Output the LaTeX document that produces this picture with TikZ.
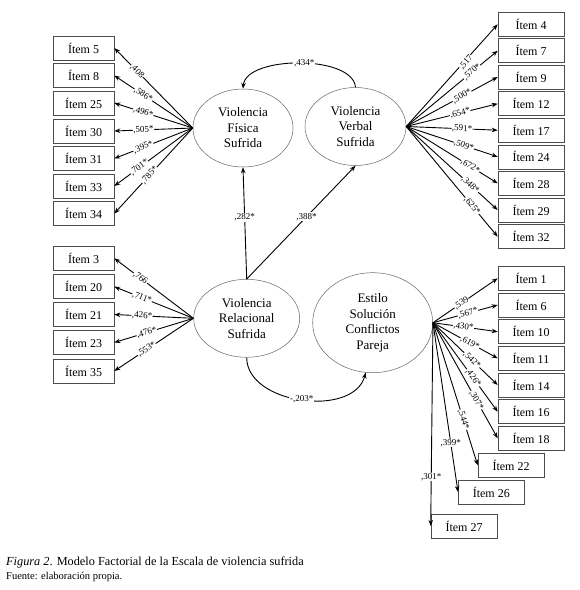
\documentclass[tikz,border=0pt]{standalone}
\usepackage{fontspec}
\setmainfont{Liberation Serif}
\usetikzlibrary{shapes.geometric,arrows.meta}
\begin{document}
\begin{tikzpicture}[x=1pt,y=-1pt,
  itembox/.style={draw=black!70, line width=0.6pt, minimum width=61pt, minimum height=24pt, inner sep=0pt, font=\fontsize{12}{14}\selectfont},
  itemboxr/.style={itembox, minimum width=66pt},
  latent/.style={ellipse, draw=black!60, line width=0.5pt, align=center, inner sep=0pt, font=\fontsize{13}{15.5}\selectfont},
  conn/.style={-{Stealth[length=6pt,width=4.5pt]}, line width=0.9pt},
  lab/.style={fill=white, inner sep=0.4pt, font=\fontsize{9}{10}\selectfont, sloped},
  labh/.style={fill=white, inner sep=0.6pt, font=\fontsize{9}{10}\selectfont}]
\useasboundingbox (0,0) rectangle (580,590);
\fill[white] (0,0) rectangle (580,590);

% latent variables
\node[latent, minimum width=100pt, minimum height=78pt] (fis) at (243,128) {Violencia\\Física\\Sufrida};
\node[latent, minimum width=101pt, minimum height=78pt] (ver) at (355.5,126.5) {Violencia\\Verbal\\Sufrida};
\node[latent, minimum width=106pt, minimum height=78pt] (rel) at (246.7,318.3) {Violencia\\Relacional\\Sufrida};
\node[latent, minimum width=120pt, minimum height=100pt] (est) at (372.7,322.7) {Estilo\\Solución\\Conflictos\\Pareja};

% left top items
\node[itembox] (i5)  at (83.5,48)    {Ítem 5};
\node[itembox] (i8)  at (83.5,75.5)  {Ítem 8};
\node[itembox] (i25) at (83.5,103)   {Ítem 25};
\node[itembox] (i30) at (83.5,131)   {Ítem 30};
\node[itembox] (i31) at (83.5,158.5) {Ítem 31};
\node[itembox] (i33) at (83.5,186)   {Ítem 33};
\node[itembox] (i34) at (83.5,213.5) {Ítem 34};

% right top items
\node[itemboxr] (i4)  at (531,24.3)  {Ítem 4};
\node[itemboxr] (i7)  at (531,50.7)  {Ítem 7};
\node[itemboxr] (i9)  at (531,77)    {Ítem 9};
\node[itemboxr] (i12) at (531,103.7) {Ítem 12};
\node[itemboxr] (i17) at (531,130.2) {Ítem 17};
\node[itemboxr] (i24) at (531,156.8) {Ítem 24};
\node[itemboxr] (i28) at (531,183.3) {Ítem 28};
\node[itemboxr] (i29) at (531,210)   {Ítem 29};
\node[itemboxr] (i32) at (531,236.7) {Ítem 32};

% left bottom items
\node[itembox] (i3)  at (83.5,258.3) {Ítem 3};
\node[itembox] (i20) at (83.5,286.7) {Ítem 20};
\node[itembox] (i21) at (83.5,314.5) {Ítem 21};
\node[itembox] (i23) at (83.5,342.5) {Ítem 23};
\node[itembox] (i35) at (83.5,371)   {Ítem 35};

% right bottom items
\node[itemboxr] (i1)  at (531,278.3) {Ítem 1};
\node[itemboxr] (i6)  at (531,305)   {Ítem 6};
\node[itemboxr] (i10) at (531,331.7) {Ítem 10};
\node[itemboxr] (i11) at (531,358.3) {Ítem 11};
\node[itemboxr] (i14) at (531,385)   {Ítem 14};
\node[itemboxr] (i16) at (531,411.7) {Ítem 16};
\node[itemboxr] (i18) at (531,438.3) {Ítem 18};
\node[itemboxr] (i22) at (511,465.3) {Ítem 22};
\node[itemboxr] (i26) at (491.3,492) {Ítem 26};
\node[itemboxr] (i27) at (464,526)   {Ítem 27};

% loadings: Fisica
\draw[conn] (fis.west) -- node[lab,pos=0.71]{,408}  (i5.east);
\draw[conn] (fis.west) -- node[lab,pos=0.63]{,586*} (i8.east);
\draw[conn] (fis.west) -- node[lab,pos=0.63]{,496*} (i25.east);
\draw[conn] (fis.west) -- node[lab,pos=0.63]{,505*} (i30.east);
\draw[conn] (fis.west) -- node[lab,pos=0.63]{,395*} (i31.east);
\draw[conn] (fis.west) -- node[lab,pos=0.68]{,701*} (i33.east);
\draw[conn] (fis.west) -- node[lab,pos=0.55]{,785*} (i34.east);

% loadings: Verbal
\draw[conn] (ver.east) -- node[lab,pos=0.64,yshift=-2pt]{,517}  (i4.west);
\draw[conn] (ver.east) -- node[lab,pos=0.72]{,570*} (i7.west);
\draw[conn] (ver.east) -- node[lab,pos=0.61]{,500*} (i9.west);
\draw[conn] (ver.east) -- node[lab,pos=0.59]{,654*} (i12.west);
\draw[conn] (ver.east) -- node[lab,pos=0.61]{,591*} (i17.west);
\draw[conn] (ver.east) -- node[lab,pos=0.63]{,509*} (i24.west);
\draw[conn] (ver.east) -- node[lab,pos=0.70]{,672*} (i28.west);
\draw[conn] (ver.east) -- node[lab,pos=0.70]{,348*} (i29.west);
\draw[conn] (ver.east) -- node[lab,pos=0.72]{,625*} (i32.west);

% loadings: Relacional
\draw[conn] (rel.west) -- node[lab,pos=0.67]{,766}  (i3.east);
\draw[conn] (rel.west) -- node[lab,pos=0.65]{,711*} (i20.east);
\draw[conn] (rel.west) -- node[lab,pos=0.65]{,426*} (i21.east);
\draw[conn] (rel.west) -- node[lab,pos=0.59]{,476*} (i23.east);
\draw[conn] (rel.west) -- node[lab,pos=0.59]{,553*} (i35.east);

% loadings: Estilo
\draw[conn] (est.east) -- node[lab,pos=0.44]{,539}  (i1.west);
\draw[conn] (est.east) -- node[lab,pos=0.54]{,567*} (i6.west);
\draw[conn] (est.east) -- node[lab,pos=0.47]{,430*} (i10.west);
\draw[conn] (est.east) -- node[lab,pos=0.57]{,619*} (i11.west);
\draw[conn] (est.east) -- node[lab,pos=0.60]{,542*} (i14.west);
\draw[conn] (est.east) -- node[lab,pos=0.62]{,426*} (i16.west);
\draw[conn] (est.east) -- node[lab,pos=0.67]{,307*} (i18.west);
\draw[conn] (est.east) -- node[lab,pos=0.68]{,544*} (i22.west);
\draw[conn] (est.east) -- node[labh,pos=0.71]{,399*} (i26.west);
\draw[conn] (est.east) -- node[labh,pos=0.76]{,301*} (i27.west);

% structural paths
\draw[conn] (rel.north) -- node[labh,pos=0.55]{,282*} (fis.south);
\draw[conn] (rel.north) -- node[labh,pos=0.55]{,388*} (ver.south);
\draw[conn] (ver.north) to[out=95,in=85,looseness=0.75] node[labh,pos=0.47]{,434*} (fis.north);
\draw[conn] (rel.south) to[out=-90,in=-105,looseness=1] node[labh,pos=0.5]{-,203*} (est.262);

% caption
\node[anchor=base west, inner sep=0pt, font=\fontsize{12.3}{14}\selectfont] (cap) at (6,565) {\textit{Figura 2}. Modelo Factorial de la Escala de violencia sufrida};
\node[anchor=base west, inner sep=0pt, font=\fontsize{10.5}{12}\selectfont] (src) at (6,579) {Fuente: elaboración propia.};
\end{tikzpicture}
\end{document}
